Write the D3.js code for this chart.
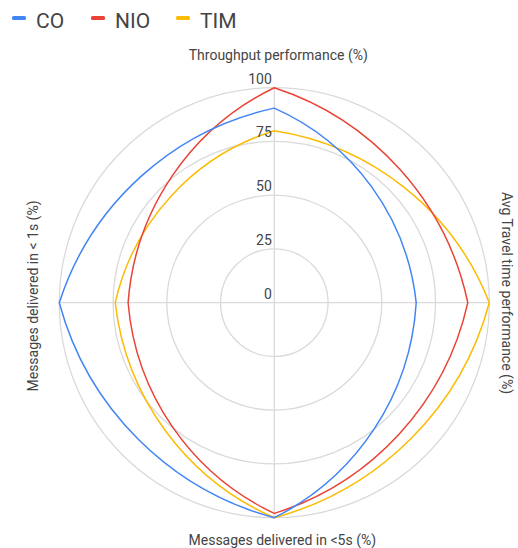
<!DOCTYPE html>
<html><head><meta charset="utf-8">
<script src="https://cdn.jsdelivr.net/npm/d3@7"></script>
<style>body{margin:0;background:#fff}svg{display:block;font-family:Roboto,Arial,sans-serif}</style>
</head><body>
<script>
const axesLabels = ["Throughput performance (%)", "Avg Travel time performance (%)", "Messages delivered in <5s (%)", "Messages delivered in < 1s (%)"];
const seriesNames = ["CO", "NIO", "TIM"];
const seriesColors = ["#4285F4", "#EA4335", "#FBBC04"];
const coValues = [90.5, 66, 100, 100];
const nioValues = [100, 90, 98, 68];
const timValues = [80, 100, 100, 74];
const tickValues = [0, 25, 50, 75, 100];

const W = 518, H = 548, cx = 274.3, cy = 302.7, R = 215;
const svg = d3.select("body").append("svg").attr("width", W).attr("height", H);
const r = d3.scaleLinear().domain([0, 100]).range([0, R]);
const ang = d3.scaleLinear().domain([0, axesLabels.length]).range([0, 2 * Math.PI]);
const g = svg.append("g").attr("transform", `translate(${cx},${cy})`);

// rings
g.selectAll("circle.ring").data(tickValues.filter(v => v > 0)).join("circle")
  .attr("r", d => r(d)).attr("fill", "none").attr("stroke", "#dadada").attr("stroke-width", 1.3);
// spokes
g.selectAll("line.spoke").data(d3.range(axesLabels.length / 2)).join("line")
  .attr("x1", d => r(100) * Math.sin(ang(d))).attr("y1", d => -r(100) * Math.cos(ang(d)))
  .attr("x2", d => -r(100) * Math.sin(ang(d))).attr("y2", d => r(100) * Math.cos(ang(d)))
  .attr("stroke", "#dadada").attr("stroke-width", 1.3);

// custom closed curve: each segment is a circular arc bulging outward (radius = chord length)
function ArcClosed(context) { this._context = context; }
ArcClosed.prototype = {
  areaStart() {}, areaEnd() {},
  lineStart() { this._pts = []; },
  point(x, y) { this._pts.push([+x, +y]); },
  lineEnd() {
    const p = this._pts, n = p.length, ctx = this._context;
    if (!n) return;
    ctx.moveTo(p[0][0], p[0][1]);
    for (let i = 0; i < n; i++) {
      const a = p[i], b = p[(i + 1) % n];
      const dx = b[0] - a[0], dy = b[1] - a[1], L = Math.hypot(dx, dy);
      if (L === 0) continue;
      const ux = dx / L, uy = dy / L;
      const nx = -uy, ny = ux; // inward normal for clockwise travel
      const d = L * Math.sqrt(3) / 2;
      const ox = (a[0] + b[0]) / 2 + nx * d, oy = (a[1] + b[1]) / 2 + ny * d;
      const a0 = Math.atan2(a[1] - oy, a[0] - ox), a1 = Math.atan2(b[1] - oy, b[0] - ox);
      ctx.arc(ox, oy, L, a0, a1, false);
    }
    ctx.closePath();
  }
};
const arcCurve = context => new ArcClosed(context);

const seriesData = [coValues, nioValues, timValues];
const radialLine = d3.lineRadial().angle((d, i) => ang(i)).radius(d => r(d)).curve(arcCurve);
[2, 1, 0].forEach(i => {
  g.append("path").attr("d", radialLine(seriesData[i]))
    .attr("fill", "none").attr("stroke", seriesColors[i]).attr("stroke-width", 1.5)
    .attr("stroke-linejoin", "miter");
});

// tick labels
g.selectAll("text.tick").data(tickValues).join("text")
  .attr("x", -2.5).attr("y", d => -r(d) - 4)
  .attr("text-anchor", "end").attr("font-size", 14).attr("fill", "#444").text(d => d);

// axis titles
const tColor = "#444";
svg.append("text").attr("x", cx + 4).attr("y", 60).attr("text-anchor", "middle")
  .attr("font-size", 14).attr("fill", tColor).text(axesLabels[0]);
svg.append("text").attr("transform", `translate(${cx + 228},${293}) rotate(90)`).attr("text-anchor", "middle")
  .attr("font-size", 14).attr("fill", tColor).text(axesLabels[1]);
svg.append("text").attr("x", cx + 8).attr("y", 545).attr("text-anchor", "middle")
  .attr("font-size", 14).attr("fill", tColor).text(axesLabels[2]);
svg.append("text").attr("transform", `translate(${38},${296}) rotate(-90)`).attr("text-anchor", "middle")
  .attr("font-size", 14).attr("fill", tColor).text(axesLabels[3]);

// legend
const legendX = [12, 91, 176];
const lg = svg.selectAll("g.leg").data(seriesNames).join("g")
  .attr("transform", (d, i) => `translate(${legendX[i]},0)`);
lg.append("rect").attr("x", 0).attr("y", 16).attr("width", 14).attr("height", 4).attr("rx", 1.5)
  .attr("fill", (d, i) => seriesColors[i]);
lg.append("text").attr("x", 24).attr("y", 28).attr("font-size", 21).attr("fill", "#444").text(d => d);
</script>
</body></html>
